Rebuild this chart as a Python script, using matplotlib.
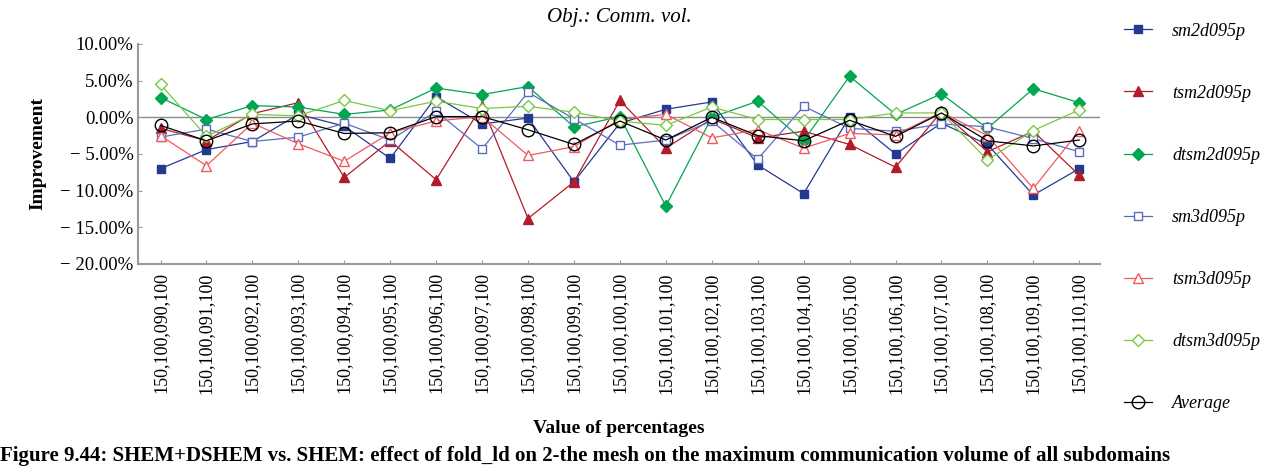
import matplotlib
matplotlib.use("Agg")
import matplotlib.pyplot as plt
from matplotlib.ticker import FuncFormatter

plt.rcParams["font.family"] = ["Liberation Serif", "DejaVu Serif"]

categories = ["150,100,%03d,100" % p for p in range(90, 111)]

series_names = ["sm2d095p", "tsm2d095p", "dtsm2d095p",
                "sm3d095p", "tsm3d095p", "dtsm3d095p", "Average"]

sm2d095p = [-7.0, -4.4, -3.3, 0.4, -1.2, -5.6, 2.8, -0.9, -0.1, -8.8, -0.8,
            1.1, 2.1, -6.5, -10.4, 0.1, -5.0, -0.8, -3.7, -10.6, -7.0]
tsm2d095p = [-1.5, -3.2, 0.5, 2.0, -8.2, -3.2, -8.5, 1.6, -13.8, -8.8, 2.3,
             -4.2, -0.2, -2.8, -1.9, -3.7, -6.8, 0.8, -4.7, -1.9, -7.9]
dtsm2d095p = [2.7, -0.3, 1.6, 1.4, 0.4, 1.0, 4.0, 3.1, 4.2, -1.3, 0.1,
              -12.1, 0.0, 2.2, -3.2, 5.6, 0.4, 3.2, -1.5, 3.9, 2.0]
sm3d095p = [-2.7, -1.6, -3.3, -2.7, -0.8, -3.1, 0.8, -4.3, 3.4, -0.2, -3.8,
            -3.1, -0.5, -5.7, 1.5, -1.5, -1.9, -0.9, -1.3, -2.9, -4.7]
tsm3d095p = [-2.5, -6.6, -0.8, -3.6, -6.0, -2.1, -0.5, 0.1, -5.2, -4.0, -0.3,
             0.4, -2.8, -1.7, -4.2, -2.2, -2.4, 0.7, -2.5, -9.7, -1.8]
dtsm3d095p = [4.5, -2.6, 0.4, 0.2, 2.3, 0.9, 2.2, 1.2, 1.5, 0.7, -0.5,
              -1.1, 1.4, -0.3, -0.3, -0.3, 0.6, 0.6, -5.8, -1.8, 1.0]
average = [-1.1, -3.2, -0.9, -0.5, -2.2, -2.1, 0.1, 0.1, -1.7, -3.7, -0.5,
           -3.1, 0.0, -2.5, -3.2, -0.4, -2.6, 0.6, -3.2, -3.9, -3.1]

values = [sm2d095p, tsm2d095p, dtsm2d095p, sm3d095p, tsm3d095p, dtsm3d095p, average]

styles = [
    dict(color="#243a92", marker="s", mfc="#243a92", ms=6),
    dict(color="#b31b2c", marker="^", mfc="#b31b2c", ms=7),
    dict(color="#00a650", marker="D", mfc="#00a650", ms=6),
    dict(color="#5b6cc0", marker="s", mfc="white", ms=6),
    dict(color="#f05a5e", marker="^", mfc="white", ms=7),
    dict(color="#79c843", marker="D", mfc="white", ms=6),
    dict(color="black", marker="o", mfc="none", ms=9),
]

fig = plt.figure(figsize=(12.82, 4.66), dpi=100)
ax = fig.add_axes([0.108, 0.4335, 0.750, 0.4721])

x = list(range(len(categories)))
ax.axhline(0, color="#8c8c8c", lw=1, zorder=1)
for name, vals, st in zip(series_names, values, styles):
    ax.plot(x, vals, lw=0.9, label=name, mew=1, zorder=3, **st)

ax.set_xlim(-0.48, 20.45)
ax.set_ylim(-20, 10)
ax.set_yticks(range(-20, 11, 5))
ax.yaxis.set_major_formatter(
    FuncFormatter(lambda v, p: ("%.2f%%" % v).replace("-", "\u2212 ")))
ax.set_xticks(x)
ax.set_xticklabels(categories, rotation=90, fontsize=13)
ax.tick_params(axis="y", labelsize=13.5, direction="in", length=3, color="#999999")
ax.tick_params(axis="x", direction="in", length=3, color="#999999", pad=6)
for s in ["top", "right"]:
    ax.spines[s].set_visible(False)
for s in ["left", "bottom"]:
    ax.spines[s].set_color("#999999")
    ax.spines[s].set_linewidth(1.5)

ax.set_title("Obj.: Comm. vol.", fontsize=15, style="italic", pad=16)
ax.set_ylabel("Improvement", fontsize=14, fontweight="bold", labelpad=10)
ax.set_xlabel("Value of percentages", fontsize=14, fontweight="bold", labelpad=19)

leg = ax.legend(loc="upper left", bbox_to_anchor=(1.017, 1.13), frameon=False,
                prop={"size": 13, "style": "italic"}, labelspacing=2.5,
                handlelength=1.6, handletextpad=1.1, borderaxespad=0)

fig.text(0.0, 0.022,
         "Figure 9.44: SHEM+DSHEM vs. SHEM: effect of fold_ld on 2-the mesh on the maximum communication volume of all subdomains",
         fontsize=15, fontweight="bold", ha="left", va="center")

fig.savefig("out.png", dpi=100)
